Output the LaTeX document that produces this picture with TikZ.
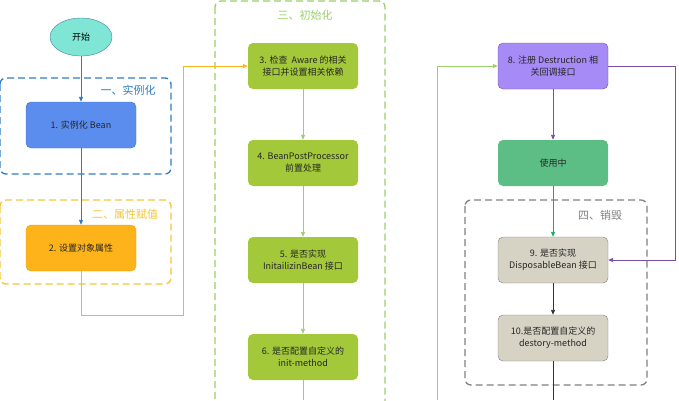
\documentclass[tikz,border=0pt]{standalone}
\usepackage{fontspec}
\setmainfont{Noto Sans CJK SC}
\usetikzlibrary{shapes.geometric,arrows.meta}
\definecolor{cblue}{HTML}{5B8DEF}
\definecolor{cbluel}{HTML}{2E7CC0}
\definecolor{cor}{HTML}{FFB31A}
\definecolor{cyel}{HTML}{F5C534}
\definecolor{cgr}{HTML}{A3C93A}
\definecolor{cgrl}{HTML}{9BD06A}
\definecolor{cpu}{HTML}{A68AF5}
\definecolor{cpul}{HTML}{7A4FA8}
\definecolor{cuse}{HTML}{5DBE85}
\definecolor{cusel}{HTML}{1FA862}
\definecolor{cgray}{HTML}{D6D2C4}
\definecolor{cstart}{HTML}{7FE5D5}
\begin{document}
\begin{tikzpicture}[x=1pt,y=-1pt,
 box/.style={rounded corners=5pt,minimum width=110pt,minimum height=46pt,align=center,font=\fontsize{9}{12}\selectfont,text=black!85},
 grp/.style={dashed,dash pattern=on 7pt off 4pt,line width=1.3pt,rounded corners=6pt},
 lab/.style={font=\fontsize{11}{13}\selectfont},
 arr/.style={-{Triangle[length=5pt,width=4pt]},line width=0.9pt}]
\useasboundingbox (0,0) rectangle (679,400);
\draw[grp,cbluel] (0,78) rectangle (171,174);
\node[lab,text=cbluel] (l1) at (128,90) {一、实例化};
\draw[grp,cyel] (0,200) rectangle (171,284);
\node[lab,text=cyel] (l2) at (125,214) {二、属性赋值};
\draw[grp,cgrl] (215,1) rectangle (385,410);
\node[lab,text=cgrl] (l3) at (305,15) {三、初始化};
\draw[grp,gray] (465,200) rectangle (647,385);
\node[lab,text=gray] (l4) at (600,215) {四、销毁};
\node[ellipse,fill=cstart,draw=cyan!60!black,minimum width=62pt,minimum height=38pt,font=\fontsize{9}{12}\selectfont] (s) at (81,37) {开始};
\node[box,fill=cblue,draw=cblue!80!black] (n1) at (81,125) {1. 实例化 Bean};
\node[box,fill=cor,draw=cor!90!black] (n2) at (81,248) {2. 设置对象属性};
\node[box,fill=cgr] (n3) at (303,66) {3. 检查 \ Aware 的相关\\接口并设置相关依赖};
\node[box,fill=cgr] (n4) at (303,163) {4. BeanPostProcessor\\前置处理};
\node[box,fill=cgr] (n5) at (303,260) {5. 是否实现\\InitailizinBean 接口};
\node[box,fill=cgr] (n6) at (303,357) {6. 是否配置自定义的\\init-method};
\node[box,fill=cpu,draw=cpul] (n8) at (553,66) {8. 注册 Destruction 相\\关回调接口};
\node[box,fill=cuse] (u) at (553,163) {使用中};
\node[box,fill=cgray,draw=gray] (n9) at (553,260) {9. 是否实现\\DisposableBean 接口};
\node[box,fill=cgray,draw=gray] (n10) at (553,338) {10.是否配置自定义的\\destory-method};
\coordinate (e6) at (303,400);
\coordinate (e10) at (553,400);
\coordinate (g0) at (437,400);
\draw[arr,cbluel] (s) -- (n1);
\draw[arr,cbluel] (n1) -- (n2);
\draw[arr,cor] (n2.south) |- (183,315) |- (n3.west);
\draw[arr,cgrl] (n3) -- (n4);
\draw[arr,cgrl] (n4) -- (n5);
\draw[arr,cgrl] (n5) -- (n6);
\draw[line width=0.9pt,cgrl] (n6) -- (e6);
\draw[arr,cgrl] (g0) |- (n8.west);
\draw[arr,cpul] (n8) -- (u);
\draw[arr,cusel] (u) -- (n9);
\draw[arr,cpul] (n8.east) -| (675,260) -- (n9.east);
\draw[arr,black!80] (n9) -- (n10);
\draw[line width=0.9pt,black!80] (n10) -- (e10);
\end{tikzpicture}
\end{document}
